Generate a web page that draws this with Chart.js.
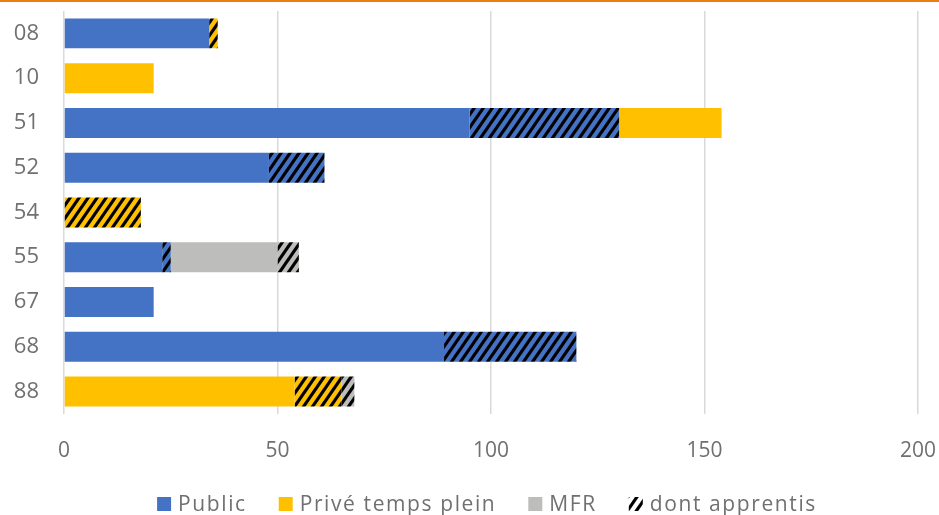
<!DOCTYPE html>
<html lang="fr">
<head>
  <meta charset="utf-8" />
  <title>Effectifs par département</title>
  <script src="https://cdn.jsdelivr.net/npm/chart.js@4"></script>
  <style>
    html, body { margin: 0; padding: 0; background: #fff; }
    #wrap { width: 939px; height: 515px; position: relative; }
  </style>
</head>
<body>
  <div id="wrap">
    <canvas id="chart" width="939" height="515"></canvas>
  </div>

  <script>
    // donnees
    const categories = ['08', '10', '51', '52', '54', '55', '67', '68', '88'];
    const publicFull      = [34, 0, 95, 48, 0, 23, 21, 89, 0];
    const publicApprentis = [0, 0, 35, 13, 0, 2, 0, 31, 0];
    const priveFull       = [0, 21, 24, 0, 0, 0, 0, 0, 54];
    const priveApprentis  = [2, 0, 0, 0, 18, 0, 0, 0, 11];
    const mfrFull         = [0, 0, 0, 0, 0, 25, 0, 0, 0];
    const mfrApprentis    = [0, 0, 0, 0, 0, 5, 0, 0, 3];
    const xTicks = [0, 50, 100, 150, 200];
    const legendLabels = ['Public', 'Privé temps plein', 'MFR', 'dont apprentis'];

    const BLUE = '#4472C4';
    const YELLOW = '#FFC000';
    const GREY = '#BDBDBC';
    const TEXT = '#707070';

    const ctx = document.getElementById('chart').getContext('2d');

    // motif hachure "/"
    function hatch(bg, fg) {
      const w = 9, h = 13;
      const c = document.createElement('canvas');
      c.width = w; c.height = h;
      const g = c.getContext('2d');
      g.fillStyle = bg;
      g.fillRect(0, 0, w, h);
      g.strokeStyle = fg;
      g.lineWidth = 3.2;
      for (let k = -1; k <= 1; k++) {
        g.beginPath();
        g.moveTo(k * w - w, 2 * h);
        g.lineTo(k * w + 2 * w, -h);
        g.stroke();
      }
      return ctx.createPattern(c, 'repeat');
    }

    const legendColors = [BLUE, YELLOW, GREY, hatch('#ffffff', '#000000')];

    Chart.defaults.font.family = '"Open Sans", sans-serif';
    Chart.defaults.color = TEXT;

    // ligne orange en haut + legende en bas
    const decor = {
      id: 'decor',
      afterDraw(chart) {
        const c = chart.ctx;
        c.save();
        c.fillStyle = '#EE7D11';
        c.fillRect(0, 0, chart.width, 2);

        c.font = '21px "Open Sans"';
        c.letterSpacing = '1.6px';
        c.textAlign = 'left';
        c.textBaseline = 'alphabetic';
        const box = 14, gap = 7, spacing = 32;
        const widths = legendLabels.map(l => box + gap + c.measureText(l).width);
        const total = widths.reduce((a, b) => a + b, 0) + spacing * (widths.length - 1);
        const area = chart.chartArea;
        let lx = (area.left + area.right) / 2 - total / 2 - 4;
        legendLabels.forEach((lab, i) => {
          c.fillStyle = legendColors[i];
          c.fillRect(lx, 497, box, box);
          c.fillStyle = TEXT;
          c.fillText(lab, lx + box + gap, 511);
          lx += widths[i] + spacing;
        });
        c.restore();
      }
    };

    new Chart(ctx, {
      type: 'bar',
      data: {
        labels: categories,
        datasets: [
          { label: 'Public', data: publicFull, backgroundColor: BLUE },
          { label: 'Public apprentis', data: publicApprentis, backgroundColor: hatch(BLUE, '#000') },
          { label: 'Privé temps plein', data: priveFull, backgroundColor: YELLOW },
          { label: 'Privé apprentis', data: priveApprentis, backgroundColor: hatch(YELLOW, '#000') },
          { label: 'MFR', data: mfrFull, backgroundColor: GREY },
          { label: 'MFR apprentis', data: mfrApprentis, backgroundColor: hatch(GREY, '#000') }
        ]
      },
      options: {
        indexAxis: 'y',
        responsive: false,
        animation: false,
        datasets: { bar: { barPercentage: 0.67, categoryPercentage: 1, borderWidth: 0 } },
        layout: { padding: { left: 0, top: 11, right: 21, bottom: 26 } },
        plugins: {
          legend: { display: false },
          tooltip: { enabled: false }
        },
        scales: {
          x: {
            stacked: true,
            min: 0,
            max: 200,
            afterBuildTicks: (s) => { s.ticks = xTicks.map(v => ({ value: v })); },
            afterFit: (s) => { s.paddingLeft = 0; s.paddingRight = 0; },
            ticks: { font: { size: 21 }, color: TEXT, padding: 25, maxRotation: 0 },
            grid: { color: '#d9d9d9', lineWidth: 1.5, drawTicks: false },
            border: { display: false }
          },
          y: {
            stacked: true,
            afterFit: (s) => { s.width = 64; s.paddingTop = 0; s.paddingBottom = 0; },
            ticks: { font: { size: 22 }, color: TEXT, padding: 25 },
            grid: { display: false, drawTicks: false },
            border: { display: false }
          }
        }
      },
      plugins: [decor]
    });
  </script>
</body>
</html>
